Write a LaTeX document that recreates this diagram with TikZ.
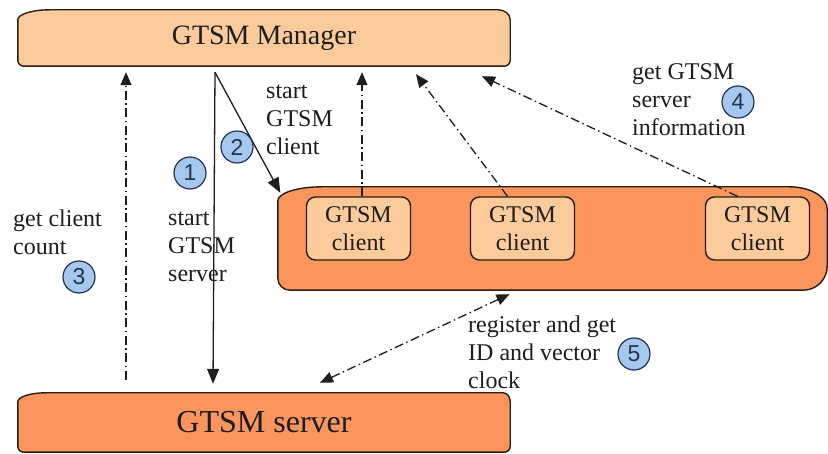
\documentclass[tikz,border=0pt]{standalone}
\usepackage{fontspec}
\setmainfont{Liberation Serif}
\newfontfamily\numfont{Liberation Sans}
\usetikzlibrary{arrows.meta,backgrounds}
\definecolor{peach}{HTML}{FBCB9B}
\definecolor{salmon}{HTML}{F9955D}
\definecolor{edge}{HTML}{2A1E14}
\definecolor{bluefill}{HTML}{A7C8EE}
\definecolor{blueedge}{HTML}{23344F}
\definecolor{ink}{HTML}{1E1E1E}
% #1 node, #2 fill, #3/#4 top-left rx/ry, #5/#6 top-right rx/ry, #7 bottom-right r, #8 bottom-left r
\newcommand\scrollshape[8]{%
  \draw[shp, fill=#2] ([xshift=#3pt]#1.north west) -- ([xshift=-#5pt]#1.north east)
    .. controls ([xshift={-0.448*#5pt}]#1.north east) and ([yshift={-0.448*#6pt}]#1.north east)
    .. ([yshift=-#6pt]#1.north east)
    -- ([yshift=#7pt]#1.south east)
    .. controls ([yshift={0.448*#7pt}]#1.south east) and ([xshift={-0.448*#7pt}]#1.south east)
    .. ([xshift=-#7pt]#1.south east)
    -- ([xshift=#8pt]#1.south west)
    .. controls ([xshift={0.448*#8pt}]#1.south west) and ([yshift={0.448*#8pt}]#1.south west)
    .. ([yshift=#8pt]#1.south west)
    -- ([yshift=-#4pt]#1.north west)
    .. controls ([yshift={-0.448*#4pt}]#1.north west) and ([xshift={0.448*#3pt}]#1.north west)
    .. ([xshift=#3pt]#1.north west) -- cycle;}
\tikzset{
  shp/.style={draw=edge, line width=1.4pt},
  area/.style={inner sep=0pt, text=ink},
  clientbox/.style={draw=edge, line width=1.4pt, fill=peach, rounded corners=9pt,
    minimum width=104pt, minimum height=63pt, inner sep=0pt, align=center,
    font=\fontsize{24}{28}\selectfont, text=ink},
  lbl/.style={anchor=north west, inner sep=0pt, align=left,
    font=\fontsize{24}{28}\selectfont, text=ink},
  num/.style={circle, draw=blueedge, fill=bluefill, line width=1.2pt,
    minimum size=32pt, inner sep=0pt, font=\numfont\fontsize{23}{23}\selectfont, text=blueedge},
  solidarrow/.style={draw=ink, line width=1.3pt, -{Triangle[length=15pt,width=12pt]}},
  dasharrow/.style={draw=ink, line width=1.3pt, dash pattern=on 9pt off 3.5pt on 1.5pt off 3.5pt,
    -{Triangle[length=13pt,width=11pt]}},
  dasharrows/.style={draw=ink, line width=1.3pt, dash pattern=on 9pt off 3.5pt on 1.5pt off 3.5pt,
    {Triangle[length=13pt,width=11pt]}-{Triangle[length=13pt,width=11pt]}},
}
\begin{document}
\begin{tikzpicture}[x=1pt,y=-1pt]
\useasboundingbox (0,0) rectangle (828,454);

% main areas
\node[area, minimum width=492pt, minimum height=56pt, font=\fontsize{28}{28}\selectfont] (mgr) at (264,38) {GTSM Manager};
\node[area, minimum width=492pt, minimum height=59pt, font=\fontsize{32}{32}\selectfont] (srv) at (264,422.5) {GTSM server};
\node[area, minimum width=549pt, minimum height=103pt] (cluster) at (552.5,238.5) {};

\begin{scope}[on background layer]
  \fill[white] (0,0) rectangle (828,454);
  \scrollshape{mgr}{peach}{32}{10}{12}{10}{6}{6}
  \scrollshape{srv}{salmon}{28}{9}{7}{9}{6}{6}
  \scrollshape{cluster}{salmon}{44}{14}{38}{22}{24}{12}
\end{scope}

% clients
\node[clientbox] (c1) at (358.5,228.5) {GTSM\\client};
\node[clientbox] (c2) at (522.5,228.5) {GTSM\\client};
\node[clientbox] (c3) at (757.5,228.5) {GTSM\\client};

% connectors
\draw[solidarrow] ([xshift=-49pt,yshift=-6pt]mgr.south) -- ([xshift=-51pt,yshift=9pt]srv.north);
\draw[solidarrow] ([xshift=-49pt,yshift=-6pt]mgr.south) -- ([xshift=2.5pt,yshift=-6pt]cluster.north west);
\draw[dasharrow] ([xshift=-138pt,yshift=13pt]srv.north) -- ([xshift=-138pt,yshift=-6pt]mgr.south);
\draw[dasharrow] ([xshift=3.5pt]c1.north) -- ([xshift=98pt,yshift=-6pt]mgr.south);
\draw[dasharrow] ([xshift=-15pt]c2.north) -- ([xshift=152pt,yshift=-8pt]mgr.south);
\draw[dasharrow] ([xshift=-20pt]c3.north) -- ([xshift=218pt,yshift=-10pt]mgr.south);
\draw[dasharrows] ([xshift=56pt,yshift=10pt]srv.north) -- ([xshift=-43pt,yshift=-4pt]cluster.south);

% labels
\node[lbl] (l2) at (266,85) {start\\GTSM\\client};
\node[lbl] (l1) at (168,212) {start\\GTSM\\server};
\node[lbl] (l3) at (13,210) {get client\\count};
\node[lbl] (l4) at (632,63) {get GTSM\\server\\information};
\node[lbl] (l5) at (468,316) {register and get\\ID and vector\\clock};

% numbers
\node[num] (n1) at (190,173) {1};
\node[num] (n2) at (237,147) {2};
\node[num] (n3) at (79,277) {3};
\node[num] (n4) at (738,102) {4};
\node[num] (n5) at (634,354) {5};
\end{tikzpicture}
\end{document}
